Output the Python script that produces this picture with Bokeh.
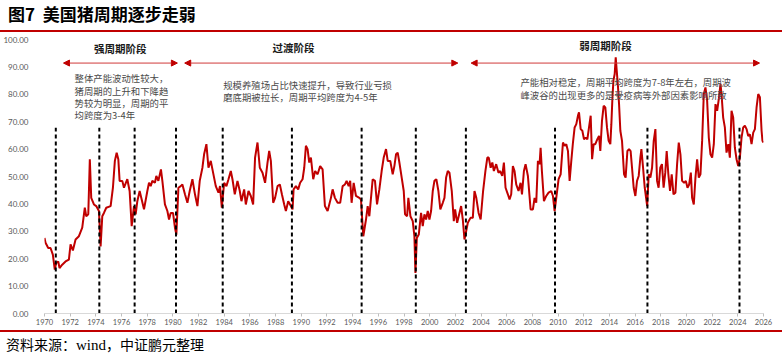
from bokeh.plotting import figure
from bokeh.models import Label, Arrow, NormalHead, Div, FixedTicker, Range1d, PrintfTickFormatter
from bokeh.layouts import column
from bokeh.embed import file_html
from bokeh.resources import INLINE

# ---------------- data ----------------
years = [
    1970.00, 1970.08, 1970.29, 1970.47, 1970.65, 1970.80, 1970.91, 1971.07, 1971.17, 1971.38,
    1971.64, 1971.90, 1972.03, 1972.21, 1972.42, 1972.68, 1972.94, 1973.14, 1973.25, 1973.41,
    1973.53, 1973.64, 1973.85, 1974.03, 1974.24, 1974.37, 1974.50, 1974.63, 1974.81, 1975.15,
    1975.33, 1975.48, 1975.62, 1975.75, 1975.85, 1976.06, 1976.19, 1976.45, 1976.63, 1976.79,
    1976.97, 1977.10, 1977.23, 1977.41, 1977.57, 1977.75, 1978.01, 1978.14, 1978.27, 1978.40,
    1978.60, 1978.71, 1978.87, 1979.07, 1979.18, 1979.38, 1979.57, 1979.70, 1979.83, 1980.01,
    1980.16, 1980.27, 1980.43, 1980.61, 1980.74, 1980.94, 1981.13, 1981.31, 1981.52, 1981.72,
    1981.91, 1982.09, 1982.30, 1982.43, 1982.61, 1982.77, 1982.95, 1983.08, 1983.34, 1983.55,
    1983.67, 1983.81, 1983.99, 1984.17, 1984.33, 1984.51, 1984.64, 1984.82, 1985.03, 1985.21,
    1985.34, 1985.55, 1985.68, 1985.89, 1986.07, 1986.25, 1986.40, 1986.59, 1986.77, 1986.98,
    1987.18, 1987.37, 1987.50, 1987.63, 1987.81, 1987.96, 1988.15, 1988.33, 1988.49, 1988.67,
    1988.80, 1988.98, 1989.19, 1989.32, 1989.40, 1989.58, 1989.76, 1989.91, 1990.10, 1990.23,
    1990.36, 1990.49, 1990.62, 1990.75, 1990.93, 1991.08, 1991.27, 1991.47, 1991.66, 1991.84,
    1992.05, 1992.18, 1992.31, 1992.44, 1992.62, 1992.83, 1993.03, 1993.22, 1993.40, 1993.53,
    1993.69, 1993.81, 1993.92, 1994.08, 1994.26, 1994.52, 1994.65, 1994.73, 1994.83, 1995.04,
    1995.17, 1995.30, 1995.43, 1995.56, 1995.74, 1995.90, 1996.08, 1996.26, 1996.42, 1996.60,
    1996.73, 1996.93, 1997.12, 1997.25, 1997.38, 1997.51, 1997.64, 1997.82, 1997.98, 1998.08,
    1998.24, 1998.34, 1998.50, 1998.68, 1998.81, 1998.89, 1999.00, 1999.15, 1999.33, 1999.46,
    1999.59, 1999.72, 1999.85, 1999.98, 2000.11, 2000.24, 2000.37, 2000.52, 2000.68, 2000.83,
    2001.02, 2001.15, 2001.28, 2001.41, 2001.54, 2001.72, 2001.88, 2001.98, 2002.14, 2002.32,
    2002.45, 2002.58, 2002.71, 2002.84, 2002.97, 2003.18, 2003.36, 2003.49, 2003.63, 2003.81,
    2003.97, 2004.16, 2004.34, 2004.49, 2004.60, 2004.75, 2004.88, 2005.00, 2005.18, 2005.36,
    2005.49, 2005.65, 2005.78, 2005.91, 2006.09, 2006.22, 2006.35, 2006.48, 2006.61, 2006.74,
    2006.92, 2007.08, 2007.19, 2007.34, 2007.47, 2007.65, 2007.86, 2008.04, 2008.17, 2008.30,
    2008.43, 2008.56, 2008.64, 2008.74, 2008.90, 2009.08, 2009.26, 2009.47, 2009.60, 2009.73,
    2009.86, 2010.04, 2010.20, 2010.38, 2010.51, 2010.64, 2010.77, 2010.90, 2011.03, 2011.16,
    2011.29, 2011.42, 2011.55, 2011.63, 2011.76, 2011.89, 2012.02, 2012.15, 2012.28, 2012.41,
    2012.54, 2012.65, 2012.77, 2012.90, 2013.06, 2013.19, 2013.29, 2013.42, 2013.55, 2013.68,
    2013.81, 2013.94, 2014.07, 2014.15, 2014.23, 2014.31, 2014.41, 2014.49, 2014.57, 2014.67,
    2014.75, 2014.85, 2014.98, 2015.14, 2015.26, 2015.40, 2015.53, 2015.65, 2015.76, 2015.89,
    2016.02, 2016.15, 2016.28, 2016.41, 2016.49, 2016.62, 2016.75, 2016.94, 2017.06, 2017.19,
    2017.32, 2017.45, 2017.58, 2017.71, 2017.83, 2017.96, 2018.09, 2018.22, 2018.35, 2018.46,
    2018.59, 2018.72, 2018.85, 2018.99, 2019.14, 2019.27, 2019.40, 2019.53, 2019.66, 2019.82,
    2019.95, 2020.08, 2020.21, 2020.34, 2020.44, 2020.57, 2020.70, 2020.83, 2020.96, 2021.09,
    2021.22, 2021.35, 2021.48, 2021.61, 2021.74, 2021.87, 2022.00, 2022.13, 2022.26, 2022.39,
    2022.52, 2022.65, 2022.73, 2022.86, 2022.99, 2023.12, 2023.26, 2023.38, 2023.51, 2023.64,
    2023.77, 2023.90, 2024.03, 2024.16, 2024.29, 2024.42, 2024.55, 2024.68, 2024.81, 2024.94,
    2025.07, 2025.20, 2025.33, 2025.46, 2025.59, 2025.72, 2025.85, 2025.92, 2025.99,
]
price = [
    27.6, 25.8, 23.9, 23.9, 21.5, 16.0, 18.4, 19.0, 16.6, 17.8,
    19.0, 19.7, 25.2, 23.0, 27.0, 28.2, 31.3, 38.6, 35.5, 36.2,
    56.3, 42.2, 39.8, 39.2, 37.4, 24.5, 35.5, 36.7, 38.6, 39.2,
    45.9, 55.7, 58.7, 56.3, 48.4, 48.4, 45.9, 49.0, 44.7, 31.9,
    39.2, 36.2, 41.0, 44.7, 41.6, 38.0, 44.7, 47.7, 46.5, 48.4,
    47.7, 50.2, 48.4, 52.6, 48.4, 39.8, 37.4, 34.3, 36.7, 36.7,
    31.3, 28.8, 45.9, 46.5, 47.1, 43.5, 40.4, 44.7, 49.0, 43.5,
    39.2, 48.4, 53.2, 58.1, 61.8, 53.2, 55.7, 52.6, 46.5, 44.1,
    46.5, 38.6, 47.7, 46.5, 49.0, 52.0, 49.0, 43.5, 48.4, 44.7,
    41.0, 45.3, 39.8, 44.7, 42.9, 39.8, 56.9, 62.4, 53.2, 51.4,
    47.7, 55.1, 59.3, 55.7, 40.4, 42.2, 46.5, 47.1, 43.5, 39.8,
    37.4, 41.0, 39.2, 38.0, 45.3, 46.5, 45.3, 47.7, 49.0, 53.2,
    61.2, 60.0, 55.1, 56.9, 49.0, 52.0, 50.8, 53.8, 52.6, 39.2,
    37.4, 39.8, 42.2, 45.3, 42.2, 40.4, 40.4, 46.5, 47.1, 48.4,
    46.5, 48.4, 40.4, 47.7, 42.9, 42.2, 41.6, 35.5, 28.2, 34.3,
    39.2, 35.5, 42.2, 49.0, 48.4, 39.8, 45.3, 52.0, 56.9, 60.0,
    55.7, 55.7, 50.8, 53.8, 58.1, 58.7, 55.1, 49.6, 44.7, 36.2,
    35.5, 42.2, 35.5, 33.7, 28.2, 14.8, 27.6, 28.8, 36.7, 31.9,
    36.2, 34.3, 37.4, 34.3, 37.4, 44.7, 48.4, 49.0, 44.7, 38.0,
    40.4, 42.2, 49.6, 52.0, 51.4, 44.7, 33.7, 38.0, 33.1, 36.7,
    39.2, 34.3, 27.0, 30.0, 33.1, 34.9, 34.9, 44.7, 42.2, 36.7,
    34.3, 44.7, 52.0, 56.9, 56.9, 53.2, 55.1, 52.0, 54.5, 51.4,
    52.0, 50.2, 55.1, 45.9, 43.5, 41.6, 43.5, 53.8, 52.0, 47.1,
    44.7, 47.7, 43.5, 52.0, 54.5, 50.2, 38.0, 38.0, 42.2, 40.4,
    55.7, 54.5, 60.5, 52.0, 41.0, 42.9, 44.1, 44.7, 42.9, 37.4,
    42.2, 49.0, 50.8, 62.4, 61.2, 61.8, 59.3, 48.4, 55.7, 62.4,
    67.9, 69.1, 72.2, 73.4, 67.3, 66.7, 63.6, 64.2, 63.6, 67.9,
    72.2, 56.3, 61.8, 61.8, 63.6, 64.8, 59.3, 70.3, 75.8, 75.2,
    67.9, 63.0, 61.8, 69.1, 78.3, 85.0, 87.4, 93.5, 88.6, 82.5,
    76.4, 66.7, 63.0, 50.8, 49.6, 59.3, 60.0, 59.3, 53.2, 45.9,
    42.9, 48.4, 50.2, 56.9, 60.0, 53.2, 45.9, 39.2, 50.8, 49.6,
    53.2, 63.0, 67.3, 48.4, 45.9, 53.2, 54.5, 45.9, 51.4, 59.3,
    50.8, 44.7, 50.8, 43.5, 44.1, 54.5, 62.4, 58.1, 48.4, 47.7,
    48.4, 45.9, 47.1, 51.4, 42.2, 39.8, 49.6, 56.3, 49.6, 50.8,
    63.0, 80.1, 82.5, 77.7, 64.2, 58.1, 56.9, 61.8, 76.4, 74.0,
    78.3, 83.8, 80.1, 71.5, 67.9, 58.7, 61.8, 56.9, 74.0, 71.5,
    60.5, 56.3, 53.8, 56.9, 64.2, 67.9, 68.5, 67.3, 64.8, 65.4,
    61.8, 66.0, 67.3, 75.2, 80.1, 78.9, 66.7, 63.0, 62.4,
]
cycle_years = [1970.88, 1974.27, 1977.02, 1980.24, 1983.88, 1989.27,
               1994.70, 1998.92, 2002.82, 2009.76, 2016.96, 2024.13]
phase_names = ["强周期阶段", "过渡阶段", "弱周期阶段"]
phase_start = [1971.48, 1980.92, 2003.23]
phase_end = [1980.35, 2002.19, 2025.69]
phase_notes = [
    ["整体产能波动性较大，", "猪周期的上升和下降趋", "势较为明显，周期的平", "均跨度为3-4年"],
    ["规模养殖场占比快速提升，导致行业亏损", "磨底期被拉长，周期平均跨度为4-5年"],
    ["产能相对稳定，周期平均跨度为7-8年左右，周期波", "峰波谷的出现更多的是受疫病等外部因素影响所致"],
]
x_ticks = list(range(1970, 2027, 2))
y_ticks = list(range(0, 101, 10))

title_text = "图7&nbsp;&nbsp;美国猪周期逐步走弱"
source_text = ('资料来源：<span style="font-family: \'Liberation Serif\'; font-size: 15px;">wind</span>'
               '，中证鹏元整理')

RED = "#C00000"
CJK = "Noto Sans CJK SC"

# ---------------- figure ----------------
p = figure(width=782, height=298, output_backend="svg", toolbar_location=None,
           x_range=Range1d(1970, 2026), y_range=Range1d(0, 100),
           min_border_left=44, min_border_right=19, min_border_top=7, min_border_bottom=17)
p.outline_line_color = None
p.grid.visible = False
p.background_fill_color = "white"
p.border_fill_color = "white"

p.xaxis.ticker = FixedTicker(ticks=x_ticks)
p.xaxis.minor_tick_line_color = None
p.xaxis.axis_line_color = "#D9D9D9"
p.xaxis.major_tick_line_color = "#BFBFBF"
p.xaxis.major_tick_in = 0
p.xaxis.major_tick_out = 3
p.xaxis.major_label_standoff = 2
p.xaxis.major_label_text_font = "Lato"
p.xaxis.major_label_text_font_size = "7.5px"
p.xaxis.major_label_text_color = "#595959"

p.yaxis.ticker = FixedTicker(ticks=y_ticks)
p.yaxis.formatter = PrintfTickFormatter(format="%.2f")
p.yaxis.minor_tick_line_color = None
p.yaxis.axis_line_color = None
p.yaxis.major_tick_line_color = None
p.yaxis.major_label_standoff = 10
p.yaxis.major_label_text_font = "Lato"
p.yaxis.major_label_text_font_size = "8px"
p.yaxis.major_label_text_color = "#595959"

p.line(years, price, line_color=RED, line_width=2)

p.segment(x0=cycle_years, y0=[0] * len(cycle_years), x1=cycle_years,
          y1=[67.8] * len(cycle_years), line_color="black", line_width=2, line_dash="4 3")

for xs, xe in zip(phase_start, phase_end):
    p.add_layout(Arrow(start=NormalHead(size=6, fill_color=RED, line_color=RED),
                       end=NormalHead(size=6, fill_color=RED, line_color=RED),
                       x_start=xs, y_start=91.4, x_end=xe, y_end=91.4,
                       line_color="#D03A3A", line_width=1))

label_x = [1975.9, 1989.4, 2013.7]
label_y = [96.8, 97.0, 97.8]
for name, lx, ly in zip(phase_names, label_x, label_y):
    p.add_layout(Label(x=lx, y=ly, text=name, text_font=CJK, text_font_size="10.5px",
                       text_font_style="bold", text_color="#1a1a1a",
                       text_align="center", text_baseline="middle"))

note_pos = [(1972.34, 85.85), (1983.92, 83.4), (2007.07, 84.4)]
for lines, (nx, ny) in zip(phase_notes, note_pos):
    for i, t in enumerate(lines):
        p.add_layout(Label(x=nx, y=ny, y_offset=-12.3 * i, text=t, text_font=CJK,
                           text_font_size="9.4px", text_color="#4a4a4a",
                           text_align="left", text_baseline="middle"))

title_div = Div(text=title_text, width=782, height=32, margin=(0, 0, 0, 0),
                styles={"font-family": CJK, "font-size": "17px", "font-weight": "bold",
                        "color": "#000000", "border-bottom": "2px solid " + RED,
                        "box-sizing": "border-box", "padding-left": "8px",
                        "line-height": "27px", "background": "white"})
source_div = Div(text=source_text, width=782, height=26, margin=(0, 0, 0, 0),
                 styles={"font-family": CJK, "font-size": "14px", "color": "#000000",
                         "border-top": "2px solid " + RED, "box-sizing": "border-box",
                         "padding-left": "6px", "line-height": "24px", "background": "white"})

layout = column(title_div, p, source_div, spacing=0, margin=(0, 0, 0, 0))

open("out.html", "w").write(file_html(layout, INLINE))
